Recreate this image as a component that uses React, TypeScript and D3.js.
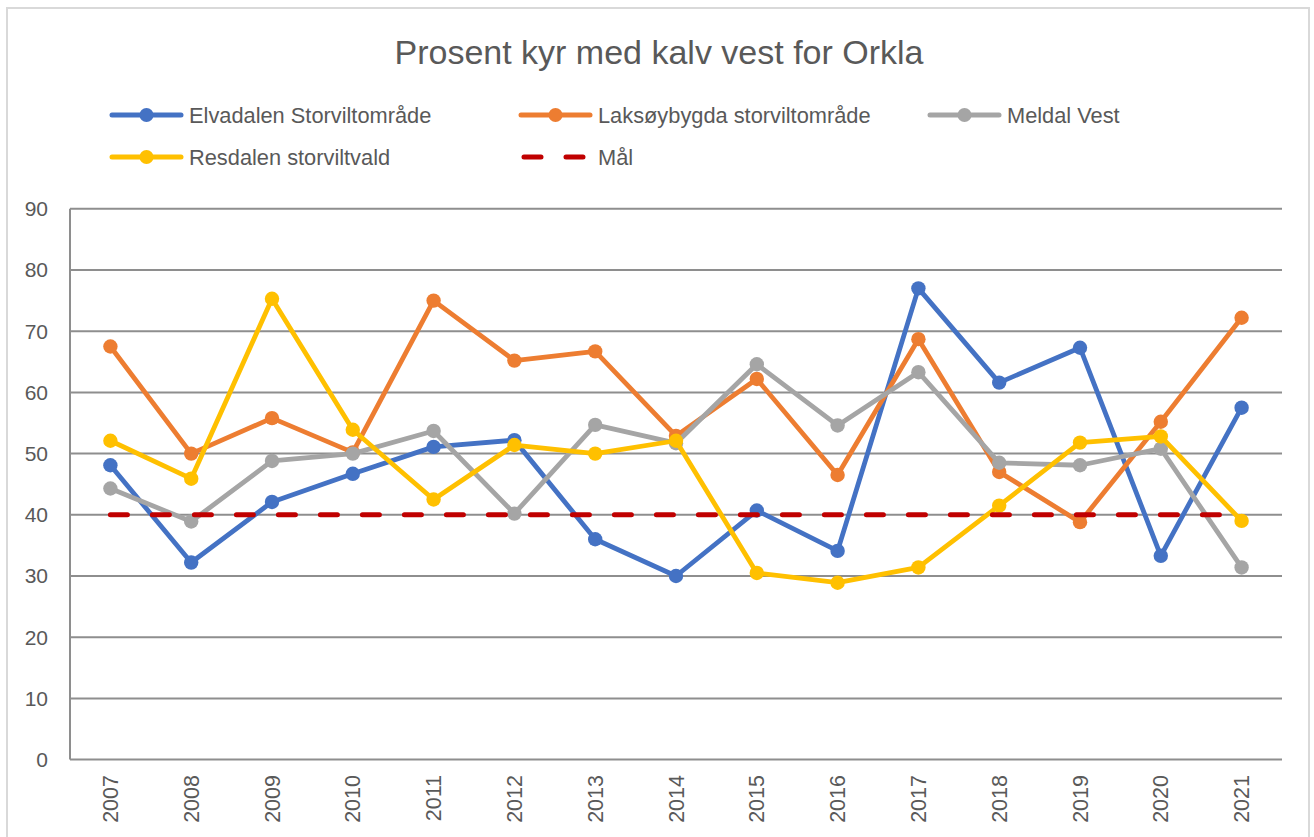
import React from "react";
import * as d3 from "d3";

const years = ["2007","2008","2009","2010","2011","2012","2013","2014","2015","2016","2017","2018","2019","2020","2021"];
const elvadalen = [48.1, 32.2, 42.1, 46.7, 51.1, 52.2, 36.0, 30.0, 40.7, 34.1, 77.0, 61.6, 67.3, 33.3, 57.5];
const laksoybygda = [67.5, 50.0, 55.8, 50.2, 75.0, 65.2, 66.7, 52.9, 62.2, 46.5, 68.7, 47.0, 38.8, 55.2, 72.2];
const meldal = [44.3, 38.9, 48.8, 50.0, 53.7, 40.2, 54.7, 51.7, 64.6, 54.6, 63.3, 48.5, 48.1, 50.8, 31.4];
const resdalen = [52.1, 45.9, 75.3, 53.9, 42.5, 51.4, 50.0, 52.1, 30.5, 28.9, 31.4, 41.5, 51.8, 52.8, 39.0];
const maal = [40, 40, 40, 40, 40, 40, 40, 40, 40, 40, 40, 40, 40, 40, 40];
const yTicks = [0, 10, 20, 30, 40, 50, 60, 70, 80, 90];
const seriesNames = ["Elvadalen Storviltområde", "Laksøybygda storviltområde", "Meldal Vest", "Resdalen storviltvald", "Mål"];
const seriesColors = ["#4472C4", "#ED7D31", "#A5A5A5", "#FFC000", "#C00000"];
const title = "Prosent kyr med kalv vest for Orkla";

const W = 1314, H = 837;
const FONT = "'Liberation Sans', Arial, sans-serif";
const TXT = "#595959";

export default function App() {
  const x = d3.scalePoint<string>().domain(years).range([70, 1282]).padding(0.5);
  const y = d3.scaleLinear().domain([0, 90]).range([759.6, 208.8]);
  const line = d3.line<number>().x((_, i) => x(years[i]) as number).y((d) => y(d));

  const series = [elvadalen, laksoybygda, meldal, resdalen];

  const legendPos = [
    { lx: 112, row: 115 },
    { lx: 521, row: 115 },
    { lx: 930, row: 115 },
    { lx: 112, row: 157 },
    { lx: 521, row: 157 },
  ];

  return (
    <svg width={W} height={H} style={{ position: "absolute", left: 0, top: 0, background: "#fff" }} fontFamily={FONT}>
      <rect x={7} y={8} width={1302} height={H} fill="#fff" stroke="#D9D9D9" strokeWidth={2} />
      <text x={659} y={64} textAnchor="middle" fontSize={34} fill={TXT}>{title}</text>

      {legendPos.map((p, i) => (
        <g key={i}>
          {i < 4 ? (
            <>
              <line x1={p.lx} x2={p.lx + 69} y1={p.row} y2={p.row} stroke={seriesColors[i]} strokeWidth={5} strokeLinecap="round" />
              <circle cx={p.lx + 34.5} cy={p.row} r={7} fill={seriesColors[i]} />
            </>
          ) : (
            <line x1={p.lx + 3} x2={p.lx + 69} y1={p.row} y2={p.row} stroke={seriesColors[i]} strokeWidth={5} strokeLinecap="round" strokeDasharray="17 25" />
          )}
          <text x={p.lx + 77} y={p.row} dy="0.35em" fontSize={21.8} fill={TXT}>{seriesNames[i]}</text>
        </g>
      ))}

      {yTicks.map((t) => (
        <g key={t}>
          <line x1={70} x2={1282} y1={y(t)} y2={y(t)} stroke="#8E8E8E" strokeWidth={2} />
          <text x={48} y={y(t)} dy="0.35em" textAnchor="end" fontSize={21} fill={TXT}>{t}</text>
        </g>
      ))}
      <line x1={70} x2={70} y1={y(90)} y2={y(0)} stroke="#8E8E8E" strokeWidth={2} />

      {years.map((yr) => (
        <text key={yr} transform={`translate(${x(yr)},775) rotate(-90)`} dy="0.35em" textAnchor="end" fontSize={21.5} fill={TXT}>{yr}</text>
      ))}

      {series.map((s, i) => (
        <g key={i}>
          <path d={line(s) || ""} fill="none" stroke={seriesColors[i]} strokeWidth={4.8} strokeLinejoin="round" />
          {s.map((v, j) => (
            <circle key={j} cx={x(years[j])} cy={y(v)} r={7.2} fill={seriesColors[i]} />
          ))}
        </g>
      ))}
      <path d={line(maal) || ""} fill="none" stroke={seriesColors[4]} strokeWidth={5} strokeLinecap="round" strokeDasharray="17 25" />
    </svg>
  );
}
